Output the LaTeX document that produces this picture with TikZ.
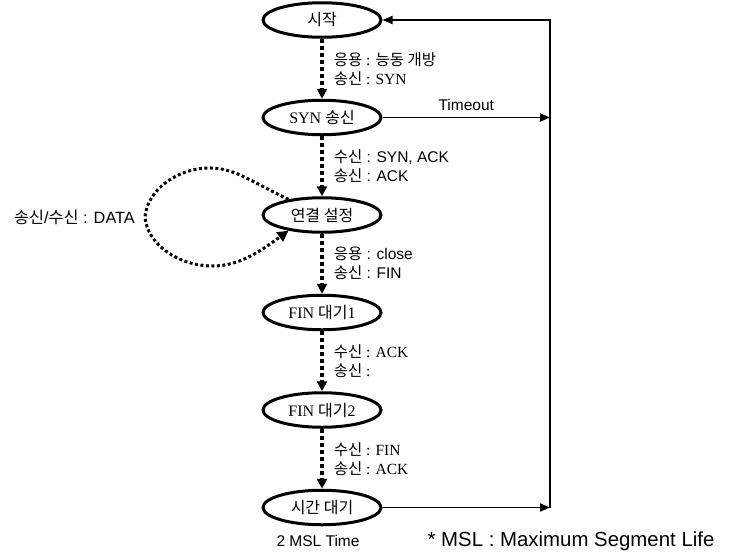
\documentclass[tikz,border=0pt]{standalone}
\usepackage{fontspec}
\setmainfont{Liberation Serif}
\setsansfont{Liberation Sans}
\newfontfamily\kr{Noto Sans CJK KR}
\newcommand{\kor}[1]{{\kr #1}}
\usetikzlibrary{shapes.geometric,positioning,arrows.meta}

\begin{document}
\begin{tikzpicture}[x=1pt,y=-1pt,font=\fontsize{15.5}{19}\selectfont,
	state/.style={draw, ellipse, line width=3pt, minimum width=118pt, minimum height=34.5pt, inner sep=0pt, font=\fontsize{16}{18}\selectfont},
	trans/.style={line width=3.5pt, dash pattern=on 4pt off 3pt, -{Triangle[length=10pt,width=10pt]}},
	dataloop/.style={line width=3pt, dash pattern=on 3pt off 2.5pt, -{Triangle[length=11pt,width=11pt]}},
	rail/.style={line width=1.8pt, -{Triangle[length=10pt,width=8pt]}},
	cond/.style={right, align=left, inner sep=0pt, xshift=10pt},
	lbl/.style={font=\sffamily\fontsize{15.5}{19}\selectfont},
	node distance=60pt]
	\useasboundingbox (0,0) rectangle (741,555);

	\node[state] (start) at (322,20)				{\kor{시작}};
	\node[state, below=of start] (synsent)		{SYN \kor{송신}};
	\node[state, below=of synsent] (estab)		{\kor{연결 설정}};
	\node[state, below=of estab] (finwait1)		{FIN \kor{대기}1};
	\node[state, below=of finwait1] (finwait2)	{FIN \kor{대기}2};
	\node[state, below=of finwait2] (timewait)	{\kor{시간 대기}};

	\coordinate (rail) at (550,0);
	\coordinate (looptop) at (212,168);
	\coordinate (loopw) at (145,217);
	\coordinate (loopbot) at (213,266);
	\node[left=10pt of loopw, inner sep=0pt, font=\sffamily\fontsize{16.3}{19}\selectfont] (datalbl) {\kor{송신}/\kor{수신} : DATA};

	\draw[trans] (start) -- (synsent) node[cond, midway] {\kor{응용} : \kor{능동 개방}\\\kor{송신} : SYN};
	\draw[trans] (synsent) -- (estab) node[cond, midway, lbl] {\kor{수신} : SYN, ACK\\\kor{송신} : ACK};
	\draw[trans] (estab) -- (finwait1) node[cond, midway, lbl] {\kor{응용} : close\\\kor{송신} : FIN};
	\draw[trans] (finwait1) -- (finwait2) node[cond, midway] {\kor{수신} : ACK\\\kor{송신} :};
	\draw[trans] (finwait2) -- (timewait) node[cond, midway] {\kor{수신} : FIN\\\kor{송신} : ACK};

	% data transfer loop
	\draw[dataloop] (estab.155) .. controls (252,182) and (236,169) .. (looptop)
		.. controls (178,167) and (147,190) .. (loopw)
		.. controls (147,244) and (178,266) .. (loopbot)
		.. controls (240,266) and (262,250) .. (estab.205);

	% back to start
	\draw[rail] (synsent) -- (synsent -| rail) node[midway, above=3pt, lbl] {Timeout};
	\draw[rail] (timewait) -- (timewait -| rail);
	\draw[rail] (timewait -| rail) -- (start -| rail) -- (start);

	\node[below=9pt of timewait, inner sep=0pt, lbl, xshift=-4pt] (msltime) {2 MSL Time};
	\node[font=\sffamily\fontsize{20.4}{24}\selectfont] (msl) at (571,541) {* MSL : Maximum Segment Life};
\end{tikzpicture}
\end{document}
